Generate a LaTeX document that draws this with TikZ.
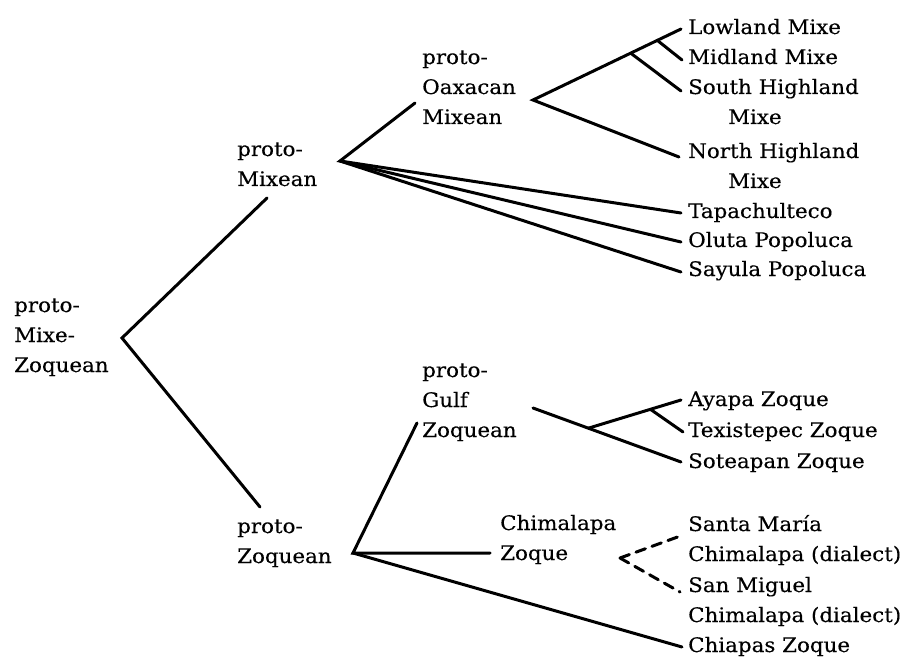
\documentclass[tikz,border=0pt]{standalone}
\usepackage{fontspec}
\setmainfont{DejaVu Serif}[FakeStretch=1.07,FakeBold=0.3]
\usetikzlibrary{calc}
\begin{document}
\begin{tikzpicture}[x=1pt,y=-1pt,
  lbl/.style={anchor=base west, inner sep=0pt, align=left, font=\fontsize{20}{30}\selectfont},
  br/.style={line width=3pt, line cap=round},
  dbr/.style={br, dash pattern=on 10pt off 7pt}]
\useasboundingbox (0,0) rectangle (902,663);
% labels (anchor = baseline of last line)
\node[lbl] (pmz) at (14,372) {proto-\\Mixe-\\Zoquean};
\node[lbl] (pmx) at (237,186) {proto-\\Mixean};
\node[lbl] (pox) at (422,124) {proto-\\Oaxacan\\Mixean};
\node[lbl] (low) at (688,34) {Lowland Mixe};
\node[lbl] (mid) at (688,64) {Midland Mixe};
\node[lbl] (shm) at (688,124) {South Highland\\\hspace*{40pt}Mixe};
\node[lbl] (nhm) at (688,188) {North Highland\\\hspace*{40pt}Mixe};
\node[lbl] (tap) at (688,218) {Tapachulteco};
\node[lbl] (olu) at (688,247) {Oluta Popoluca};
\node[lbl] (say) at (688,276) {Sayula Popoluca};
\node[lbl] (pzq) at (237,563) {proto-\\Zoquean};
\node[lbl] (pgz) at (422,437) {proto-\\Gulf\\Zoquean};
\node[lbl] (aya) at (688,406) {Ayapa Zoque};
\node[lbl] (tex) at (688,437) {Texistepec Zoque};
\node[lbl] (sot) at (688,468) {Soteapan Zoque};
\node[lbl] (chz) at (500,560) {Chimalapa\\Zoque};
\node[lbl] (smc) at (688,561) {Santa María\\Chimalapa (dialect)};
\node[lbl] (sgc) at (688,622) {San Miguel\\Chimalapa (dialect)};
\node[lbl] (chi) at (688,652) {Chiapas Zoque};
% junctions and line ends
\coordinate (jR) at (122,338);
\coordinate (eMx) at (267,198);
\coordinate (eZq) at (260,507);
\coordinate (jM) at (340,161);
\coordinate (eOx) at (415,103);
\coordinate (jO) at (533,100);
\coordinate (eLow) at (681,29);
\coordinate (eMid) at (682,60);
\coordinate (eSou) at (681,91);
\coordinate (eNor) at (679,157);
\coordinate (eTap) at (681,213);
\coordinate (eOlu) at (681,242);
\coordinate (eSay) at (681,272);
\coordinate (jMid) at ($(jO)!0.84!(eLow)$);
\coordinate (jSou) at ($(jO)!0.66!(eLow)$);
\coordinate (jZ) at (353,553);
\coordinate (eGz) at (417,423);
\coordinate (eCh) at (490,553);
\coordinate (eChi) at (682,647);
\coordinate (jG) at (533,408);
\coordinate (eAya) at (681,400);
\coordinate (eTex) at (683,432);
\coordinate (eSot) at (681,462);
\coordinate (jG2) at ($(jG)!0.374!(eSot)$);
\coordinate (jTex) at ($(jG2)!0.67!(eAya)$);
\coordinate (jV) at (620,558);
\coordinate (eSm) at (683,535);
\coordinate (eSg) at (680,592);
% branches
\draw[br] (eMx) -- (jR) -- (eZq);
\draw[br] (eOx) -- (jM) -- (eTap);
\draw[br] (jM) -- (eOlu);
\draw[br] (jM) -- (eSay);
\draw[br] (eLow) -- (jO) -- (eNor);
\draw[br] (jMid) -- (eMid);
\draw[br] (jSou) -- (eSou);
\draw[br] (eGz) -- (jZ) -- (eCh);
\draw[br] (jZ) -- (eChi);
\draw[br] (jG) -- (eSot);
\draw[br] (jG2) -- (eAya);
\draw[br] (jTex) -- (eTex);
\draw[dbr] (jV) -- (eSm);
\draw[dbr] (jV) -- (eSg);
\end{tikzpicture}
\end{document}
